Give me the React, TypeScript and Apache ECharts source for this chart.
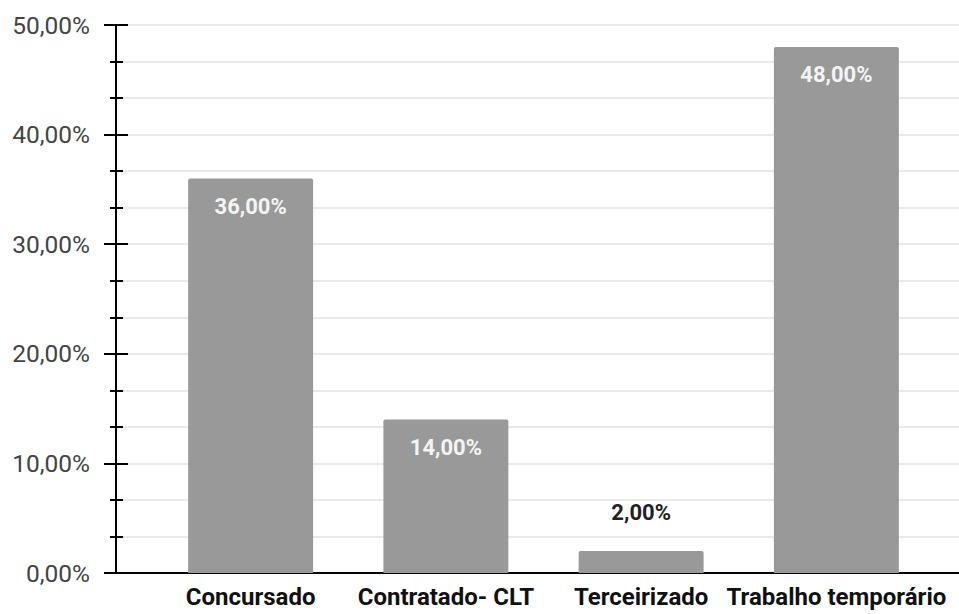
import React, { useEffect, useRef } from "react";
import * as echarts from "echarts";

const categories = ["Concursado", "Contratado- CLT", "Terceirizado", "Trabalho temporário"];
const values = [36, 14, 2, 48];
const yMin = 0;
const yMax = 50;
const yStep = 10;

const fmtPct = (v: number) => v.toFixed(2).replace(".", ",") + "%";

export default function App() {
  const ref = useRef<HTMLDivElement>(null);
  useEffect(() => {
    if (!ref.current) return;
    const chart = echarts.init(ref.current, null, { renderer: "svg" });
    const gridTop = 25;
    const gridBottom = 41;
    chart.setOption({
      animation: false,
      grid: [
        { left: 116, right: 0, top: gridTop, bottom: gridBottom, outerBoundsMode: "none", containLabel: false },
        { left: 153, right: 25, top: gridTop, bottom: gridBottom, outerBoundsMode: "none", containLabel: false },
      ],
      xAxis: [
        {
          gridIndex: 0,
          type: "value",
          min: 0,
          max: 1,
          axisLine: { show: true, onZero: false, lineStyle: { color: "#000", width: 2 } },
          axisTick: { show: false },
          axisLabel: { show: false },
          splitLine: { show: false },
        },
        {
          gridIndex: 1,
          type: "category",
          data: categories,
          axisLine: { show: false },
          axisTick: { show: false },
          axisLabel: {
            interval: 0,
            margin: 12,
            fontFamily: "Roboto",
            fontWeight: "bold",
            fontSize: 24,
            color: "#111",
          },
        },
      ],
      yAxis: [
        {
          gridIndex: 0,
          type: "value",
          min: yMin,
          max: yMax,
          interval: yStep,
          axisLine: { show: true, lineStyle: { color: "#000", width: 2 } },
          axisTick: { show: true, length: 12, lineStyle: { color: "#000", width: 2 } },
          minorTick: { show: true, splitNumber: 3, length: 6, lineStyle: { color: "#000", width: 2 } },
          splitLine: { show: true, lineStyle: { color: "#e3e3e3", width: 1.5 } },
          minorSplitLine: { show: true, lineStyle: { color: "#e3e3e3", width: 1.5 } },
          axisLabel: {
            margin: 26,
            fontFamily: "Roboto",
            fontSize: 24.5,
            color: "#444",
            formatter: (v: number) => fmtPct(v),
          },
        },
        {
          gridIndex: 0,
          type: "value",
          min: yMin,
          max: yMax,
          interval: yStep,
          position: "left",
          axisLine: { show: false },
          axisTick: { show: true, inside: true, length: 12, lineStyle: { color: "#000", width: 2 } },
          minorTick: { show: true, splitNumber: 3, length: 7, lineStyle: { color: "#000", width: 2 } },
          splitLine: { show: false },
          axisLabel: { show: false },
        },
        {
          gridIndex: 1,
          type: "value",
          min: yMin,
          max: yMax,
          show: false,
        },
      ],
      series: [
        {
          type: "bar",
          xAxisIndex: 1,
          yAxisIndex: 2,
          barWidth: "64%",
          itemStyle: { color: "#999999", borderRadius: [2, 2, 0, 0] },
          label: {
            show: true,
            position: "insideTop",
            distance: 17,
            fontFamily: "Roboto",
            fontWeight: "bold",
            fontSize: 22,
            color: "#f4f4f4",
            formatter: (p: any) => fmtPct(p.value),
          },
          data: values.map((v) =>
            v < 5
              ? { value: v, label: { position: "top", distance: 28, color: "#222" } }
              : { value: v }
          ),
        },
      ],
    });
    return () => chart.dispose();
  }, []);
  return (
    <div
      ref={ref}
      style={{ position: "fixed", left: 0, top: 0, width: 959, height: 614, background: "#fff" }}
    />
  );
}
